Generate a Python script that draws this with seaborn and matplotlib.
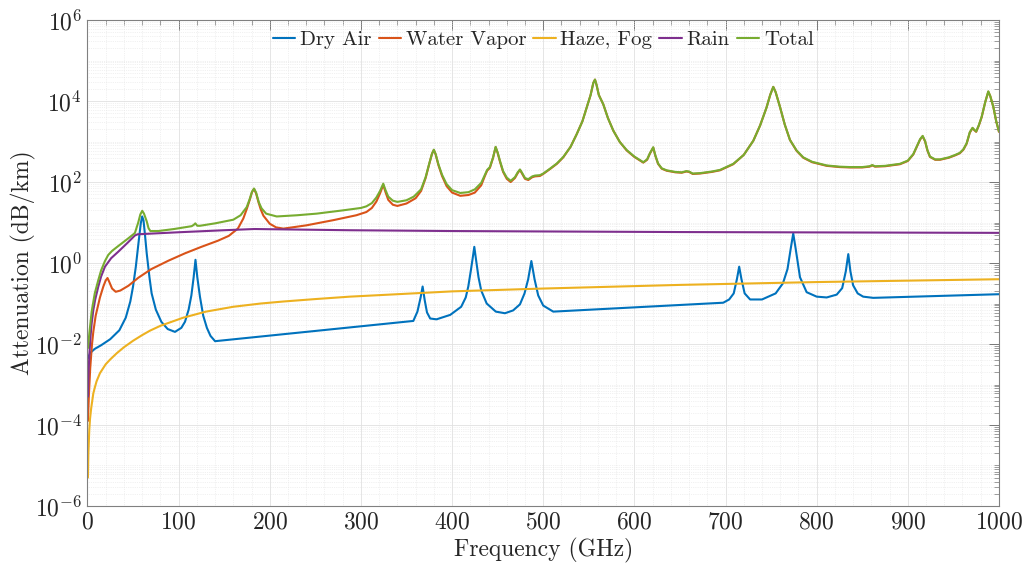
import numpy as np
import pandas as pd
import matplotlib
matplotlib.use("Agg")
import matplotlib.pyplot as plt
from matplotlib.ticker import MultipleLocator, LogLocator, FuncFormatter, NullFormatter, FixedLocator
import seaborn as sns

# ---------------- data (frequency in GHz, attenuation as log10(dB/km)) ----------------
dry_air_freq = [0.5, 3, 8, 15, 25, 35, 42, 47, 50, 53, 56, 58.5, 60, 61.5, 63, 65, 68, 70.4, 75, 81,
                88, 96, 103, 107, 111, 114, 116.5, 118.5, 120.5, 123.4, 127, 131, 135, 140,
                357.5, 362, 365.5, 367.7, 370, 372.5, 376, 383, 398, 410, 415, 417.8, 420.5, 422.5,
                424.4, 426.5, 429, 432, 438, 448, 458, 467, 474.5, 479.5, 483.5, 487, 490.5, 494.5,
                500, 511, 697.5, 704, 709, 712.5, 715, 717.5, 721, 727, 740, 755, 763, 768, 771.5,
                774.3, 777, 781.7, 789, 800, 811, 822, 828, 832, 834.7, 837, 840, 845, 851, 862, 1000]
dry_air_log = [-2.35, -2.22, -2.12, -2.03, -1.88, -1.66, -1.35, -0.95, -0.58, -0.1, 0.5, 0.98, 1.15,
               1.05, 0.72, 0.24, -0.35, -0.75, -1.15, -1.45, -1.63, -1.70, -1.6, -1.45, -1.15, -0.8,
               -0.35, 0.08, -0.35, -0.83, -1.3, -1.6, -1.8, -1.93,
               -1.43, -1.2, -0.85, -0.58, -0.92, -1.22, -1.37, -1.39, -1.28, -1.08, -0.85, -0.58,
               -0.2, 0.1, 0.40, 0.05, -0.35, -0.68, -1.0, -1.2, -1.24, -1.17, -1.02, -0.75, -0.4,
               0.05, -0.4, -0.8, -1.05, -1.20, -0.98, -0.9, -0.75, -0.4, -0.09, -0.4, -0.75, -0.9,
               -0.9, -0.75, -0.5, -0.15, 0.35, 0.73, 0.35, -0.35, -0.72, -0.83, -0.85, -0.78, -0.62,
               -0.2, 0.22, -0.2, -0.55, -0.75, -0.83, -0.86, -0.77]

water_vapor_freq = [0.5, 1.5, 3, 5, 6.4, 9, 13.7, 17.4, 20, 22, 24, 27, 31, 36, 45, 56, 70, 89, 107,
                    125, 143, 155, 165, 171, 175, 178, 180.5, 182.7, 185, 187.4, 190, 193, 200, 207,
                    215, 240, 270, 295, 306, 312, 317, 321, 324.5, 327, 330, 335, 340, 350, 360, 366,
                    371, 375, 378, 380, 382, 385, 389, 394, 400, 409, 418, 425, 432, 436, 438.5,
                    441.5, 445, 447.8, 450, 452.6, 456, 460, 464.3, 469, 472, 474.5, 477, 480, 483.6,
                    488, 491, 496.4, 500, 507.4, 515, 522, 530, 536.7, 543, 547.7, 552, 555, 556.8,
                    558.5, 561, 565.9, 571, 576.9, 584, 591.6, 600, 609.8, 614, 617, 620.7, 623, 626,
                    630, 635.4, 645, 652, 657, 660, 664, 672, 685, 694, 708.5, 720, 730.5, 738, 745,
                    749, 752.4, 755, 759.7, 765, 770.7, 778, 785.3, 795, 811, 825, 836.5, 850, 858,
                    861, 864, 875, 891.4, 900, 906, 910, 913.5, 916.3, 919, 921.5, 924.3, 930, 935.3,
                    945, 952, 957, 961, 964.6, 968, 971, 973, 975, 978, 981, 985, 988.3, 990.5,
                    993.8, 997, 1000]
water_vapor_log = [-3.9, -3.3, -2.6, -2.0, -1.7, -1.3, -0.85, -0.58, -0.43, -0.37, -0.47, -0.63,
                   -0.71, -0.68, -0.56, -0.36, -0.15, 0.06, 0.24, 0.40, 0.55, 0.67, 0.85, 1.1, 1.35,
                   1.56, 1.75, 1.83, 1.72, 1.52, 1.33, 1.17, 0.97, 0.88, 0.85, 0.93, 1.06, 1.18,
                   1.26, 1.36, 1.52, 1.72, 1.93, 1.75, 1.56, 1.44, 1.41, 1.47, 1.6, 1.78, 2.1, 2.45,
                   2.7, 2.79, 2.68, 2.42, 2.15, 1.90, 1.74, 1.66, 1.68, 1.74, 1.92, 2.15, 2.28, 2.35,
                   2.6, 2.86, 2.72, 2.5, 2.25, 2.08, 2.0, 2.1, 2.22, 2.3, 2.2, 2.08, 2.05, 2.12, 2.14,
                   2.15, 2.2, 2.32, 2.45, 2.61, 2.87, 3.18, 3.5, 3.84, 4.15, 4.45, 4.53, 4.4, 4.15,
                   3.92, 3.58, 3.27, 2.99, 2.78, 2.62, 2.48, 2.55, 2.7, 2.85, 2.65, 2.45, 2.33, 2.28,
                   2.24, 2.23, 2.26, 2.25, 2.20, 2.21, 2.25, 2.29, 2.44, 2.67, 3.02, 3.4, 3.84, 4.15,
                   4.35, 4.22, 3.86, 3.42, 3.04, 2.77, 2.6, 2.49, 2.40, 2.37, 2.36, 2.36, 2.38, 2.41,
                   2.38, 2.39, 2.44, 2.52, 2.68, 2.88, 3.05, 3.13, 3.0, 2.78, 2.62, 2.55, 2.55, 2.6,
                   2.66, 2.71, 2.8, 2.95, 3.22, 3.33, 3.28, 3.24, 3.4, 3.6, 3.98, 4.23, 4.12, 3.86,
                   3.5, 3.24]

haze_fog_freq = [0.5, 1, 2, 2.8, 4, 6.4, 8, 10, 13.7, 20, 25, 32, 40, 50, 60, 68.6, 80, 105, 130,
                 160, 190, 215, 250, 288, 340, 400, 450, 500, 575, 650, 725, 800, 900, 1000]
haze_fog_log = [-5.3, -4.7, -4.12, -3.85, -3.6, -3.22, -3.08, -2.92, -2.72, -2.5, -2.38, -2.23,
                -2.08, -1.92, -1.78, -1.67, -1.55, -1.35, -1.2, -1.08, -1.0, -0.95, -0.89, -0.83,
                -0.77, -0.70, -0.665, -0.63, -0.585, -0.54, -0.505, -0.47, -0.435, -0.40]

rain_freq = [0.5, 1.2, 2.2, 3.4, 4.6, 6.5, 8.5, 11.9, 15, 19.2, 26, 33.8, 44, 52, 55, 100, 150, 183,
             200, 288, 400, 650, 1000]
rain_log = [-3.3, -2.7, -2.2, -1.8, -1.49, -1.15, -0.9, -0.58, -0.33, -0.09, 0.12, 0.28, 0.5, 0.68,
            0.71, 0.76, 0.81, 0.84, 0.835, 0.81, 0.79, 0.765, 0.745]

total_freq = [0.5, 2, 4.6, 8, 11.9, 15, 19.2, 22.8, 27, 33.8, 44.8, 52, 55.7, 58, 60.1, 62, 65, 67,
              69, 77.7, 95, 114.3, 116.5, 118.3, 120.5, 123.4, 140, 160, 168, 174.7, 178, 180.5,
              182.7, 185, 188, 191, 196, 207.6, 230, 251.5, 280, 300, 306, 312, 317, 321, 324.5,
              327, 330, 335, 340, 350, 358, 366, 371, 375, 378, 380, 382, 385, 389, 394, 400, 409,
              418, 425, 432, 436, 438.5, 441.5, 445, 447.8, 450, 452.6, 456, 460, 464.3, 469, 472,
              474.5, 477, 480, 483.6, 488, 491, 496.4, 500, 507.4, 515, 522, 530, 536.7, 543, 547.7,
              552, 555, 556.8, 558.5, 561, 565.9, 571, 576.9, 584, 591.6, 600, 609.8, 614, 617,
              620.7, 623, 626, 630, 635.4, 645, 652, 657, 660, 664, 672, 685, 694, 708.5, 720,
              730.5, 738, 745, 749, 752.4, 755, 759.7, 765, 770.7, 778, 785.3, 795, 811, 825, 836.5,
              850, 858, 861, 864, 875, 891.4, 900, 906, 910, 913.5, 916.3, 919, 921.5, 924.3, 930,
              935.3, 945, 952, 957, 961, 964.6, 968, 971, 973, 975, 978, 981, 985, 988.3, 990.5,
              993.8, 997, 1000]
total_log = [-2.1, -1.75, -1.2, -0.75, -0.42, -0.18, 0.05, 0.2, 0.3, 0.42, 0.61, 0.74, 1.0, 1.2,
             1.29, 1.22, 1.03, 0.86, 0.79, 0.79, 0.84, 0.91, 0.94, 0.98, 0.92, 0.92, 0.98, 1.07,
             1.18, 1.38, 1.58, 1.76, 1.84, 1.74, 1.5, 1.35, 1.22, 1.15, 1.18, 1.22, 1.3, 1.36,
             1.40, 1.48, 1.62, 1.78, 1.96, 1.80, 1.64, 1.54, 1.51, 1.55, 1.64, 1.82, 2.12, 2.46,
             2.7, 2.8, 2.69, 2.44, 2.18, 1.95, 1.80, 1.73, 1.75, 1.82, 1.98, 2.18, 2.30, 2.37,
             2.61, 2.87, 2.73, 2.52, 2.27, 2.11, 2.03, 2.12, 2.24, 2.31, 2.22, 2.10, 2.07, 2.14,
             2.16, 2.17, 2.21, 2.33, 2.46, 2.62, 2.87, 3.18, 3.5, 3.84, 4.15, 4.45, 4.53, 4.4,
             4.15, 3.92, 3.58, 3.27, 2.99, 2.79, 2.63, 2.49, 2.56, 2.71, 2.86, 2.66, 2.46, 2.34,
             2.29, 2.25, 2.24, 2.27, 2.26, 2.21, 2.22, 2.26, 2.30, 2.45, 2.67, 3.02, 3.4, 3.84,
             4.15, 4.35, 4.22, 3.86, 3.42, 3.04, 2.78, 2.61, 2.50, 2.41, 2.38, 2.37, 2.37, 2.39,
             2.42, 2.39, 2.40, 2.45, 2.53, 2.69, 2.89, 3.06, 3.14, 3.01, 2.79, 2.63, 2.56, 2.56,
             2.61, 2.67, 2.72, 2.81, 2.96, 3.23, 3.34, 3.29, 3.25, 3.41, 3.61, 3.98, 4.24, 4.12,
             3.86, 3.5, 3.25]

series_names = ["Dry Air", "Water Vapor", "Haze, Fog", "Rain", "Total"]
series_colors = ["#0072BD", "#D95319", "#EDB120", "#7E2F8E", "#77AC30"]

x_ticks = [0, 100, 200, 300, 400, 500, 600, 700, 800, 900, 1000]
y_ticks = [1e-6, 1e-4, 1e-2, 1e0, 1e2, 1e4, 1e6]

FS = 17
LEG_FS = 15

# ---------------- build long-form table ----------------
frames = []
for name, f, lg in zip(series_names,
                       [dry_air_freq, water_vapor_freq, haze_fog_freq, rain_freq, total_freq],
                       [dry_air_log, water_vapor_log, haze_fog_log, rain_log, total_log]):
    frames.append(pd.DataFrame({"freq": f, "atten": np.power(10.0, np.array(lg)), "series": name}))
df = pd.concat(frames, ignore_index=True)

# ---------------- style ----------------
sns.set_style("white")
plt.rcParams["mathtext.fontset"] = "cm"
plt.rcParams["font.family"] = ["cmr10", "DejaVu Serif"]
plt.rcParams["axes.formatter.use_mathtext"] = True

fig = plt.figure(figsize=(10.23, 5.67), dpi=100)
ax = fig.add_axes([0.0855, 0.1076, 0.891, 0.857])

sns.lineplot(data=df, x="freq", y="atten", hue="series", hue_order=series_names,
             palette=dict(zip(series_names, series_colors)), estimator=None, sort=False,
             linewidth=1.5, ax=ax)

ax.set_yscale("log")
ax.set_xlim(0, 1000)
ax.set_ylim(1e-6, 1e6)

ax.xaxis.set_major_locator(FixedLocator(x_ticks))
ax.xaxis.set_minor_locator(MultipleLocator(20))
ax.xaxis.set_major_formatter(FuncFormatter(lambda v, p: r"$%d$" % int(round(v))))
ax.yaxis.set_major_locator(FixedLocator(y_ticks))
ax.yaxis.set_minor_locator(LogLocator(base=10, subs=np.arange(1, 10), numticks=100))
ax.yaxis.set_major_formatter(FuncFormatter(lambda v, p: r"$10^{%d}$" % int(round(np.log10(v)))))
ax.yaxis.set_minor_formatter(NullFormatter())

ax.grid(True, which="major", color="#e1e1e1", linewidth=0.6, linestyle="-")
ax.grid(True, which="minor", color="#e4e4e4", linewidth=0.5, linestyle=":")
ax.set_axisbelow(True)

ax.tick_params(which="both", direction="in", top=True, right=True, colors="#777777",
               labelcolor="#262626", labelsize=FS)
ax.tick_params(which="major", length=7, width=0.7, pad=4)
ax.tick_params(which="minor", length=3.5, width=0.5)
for s in ax.spines.values():
    s.set_color("#808080")
    s.set_linewidth(0.8)

ax.set_xlabel("Frequency (GHz)", fontsize=FS, color="#262626", labelpad=3)
ax.set_ylabel("Attenuation (dB/km)", fontsize=FS, color="#262626")
ax.yaxis.set_label_coords(-0.056, 0.5)

leg = ax.legend(loc="upper center", ncol=5, frameon=False, fontsize=LEG_FS, handlelength=1.08,
                handletextpad=0.22, columnspacing=0.34, borderaxespad=0.1, title=None)
for t in leg.get_texts():
    t.set_color("#262626")

fig.savefig("out.png", dpi=100)
